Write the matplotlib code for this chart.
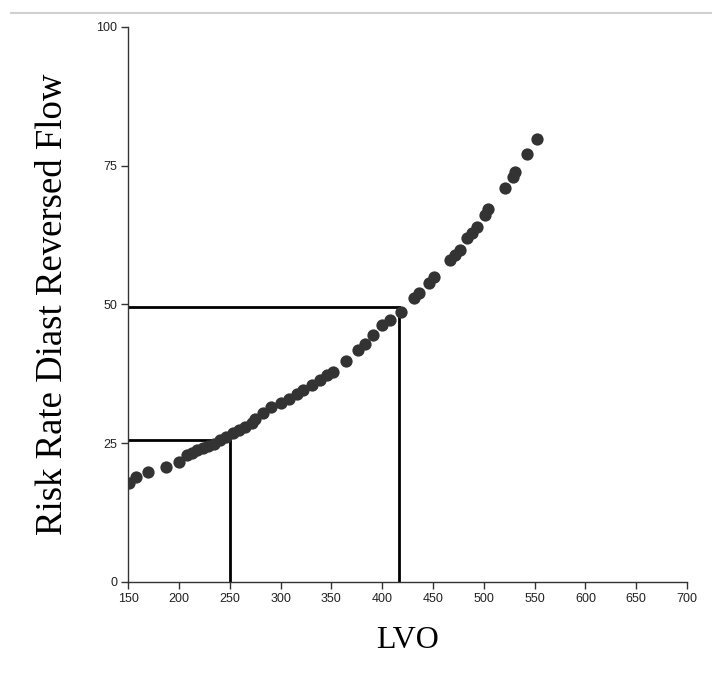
import matplotlib.pyplot as plt
from matplotlib.lines import Line2D

# LVO vs risk rate of diastolic reversed flow
lvo = [151, 158, 170, 187, 200, 208, 213, 218, 224, 229, 234, 240, 246,
       253, 259, 265, 272, 275, 283, 291, 300, 308, 316, 322, 331, 339,
       346, 352, 364, 376, 383, 391, 400, 408, 418, 431, 436, 446, 451,
       467, 472, 477, 483, 488, 493, 501, 504, 521, 529, 531, 542, 552]
risk = [17.8, 18.9, 19.9, 20.8, 21.7, 22.9, 23.3, 23.8, 24.1, 24.5, 24.8,
        25.6, 26.2, 26.8, 27.3, 27.9, 28.6, 29.3, 30.5, 31.5, 32.2, 33.0,
        33.9, 34.6, 35.5, 36.4, 37.3, 37.9, 39.9, 41.8, 42.9, 44.5, 46.3,
        47.2, 48.7, 51.1, 52.0, 53.8, 55.0, 58.0, 58.9, 59.8, 61.9, 62.8,
        63.9, 66.1, 67.2, 70.9, 72.9, 73.9, 77.1, 79.9]

# guide lines: (lvo, risk) cut-offs
guides = [(250, 25.5), (417, 49.5)]

xticks = list(range(150, 701, 50))
yticks = [0, 25, 50, 75, 100]

fig = plt.figure(figsize=(7.12, 6.81), dpi=100)
ax = fig.add_axes([0.18, 0.1454, 0.785, 0.815])

ax.scatter(lvo, risk, s=78, color='#333333', zorder=3, linewidths=0)

for gx, gy in guides:
    ax.plot([150, gx], [gy, gy], color='black', lw=2, zorder=2)
    ax.plot([gx, gx], [0, gy], color='black', lw=2, zorder=2)

ax.set_xlim(150, 700)
ax.set_ylim(0, 100)
ax.set_xticks(xticks)
ax.set_yticks(yticks)

tick_font = {'family': 'Liberation Sans', 'size': 9}
ax.set_xticklabels([str(t) for t in xticks], fontdict=tick_font)
ax.set_yticklabels([str(t) for t in yticks], fontdict=tick_font)
ax.tick_params(direction='out', length=5, width=1, color='#333333',
               labelcolor='#222222', pad=3)

for side in ['top', 'right']:
    ax.spines[side].set_visible(False)
for side in ['left', 'bottom']:
    ax.spines[side].set_color('#333333')
    ax.spines[side].set_linewidth(1)

ax.set_xlabel('LVO', family='Liberation Serif', size=23, labelpad=15)
ax.set_ylabel('Risk Rate Diast Reversed Flow', family='Liberation Serif',
              size=26.5, labelpad=19)

# thin grey rule across the top
fig.add_artist(Line2D([11 / 712, 1.0], [1 - 13 / 681, 1 - 13 / 681],
                      color='#d0d0d0', lw=1.5, transform=fig.transFigure))

fig.savefig('out.png', dpi=100)
